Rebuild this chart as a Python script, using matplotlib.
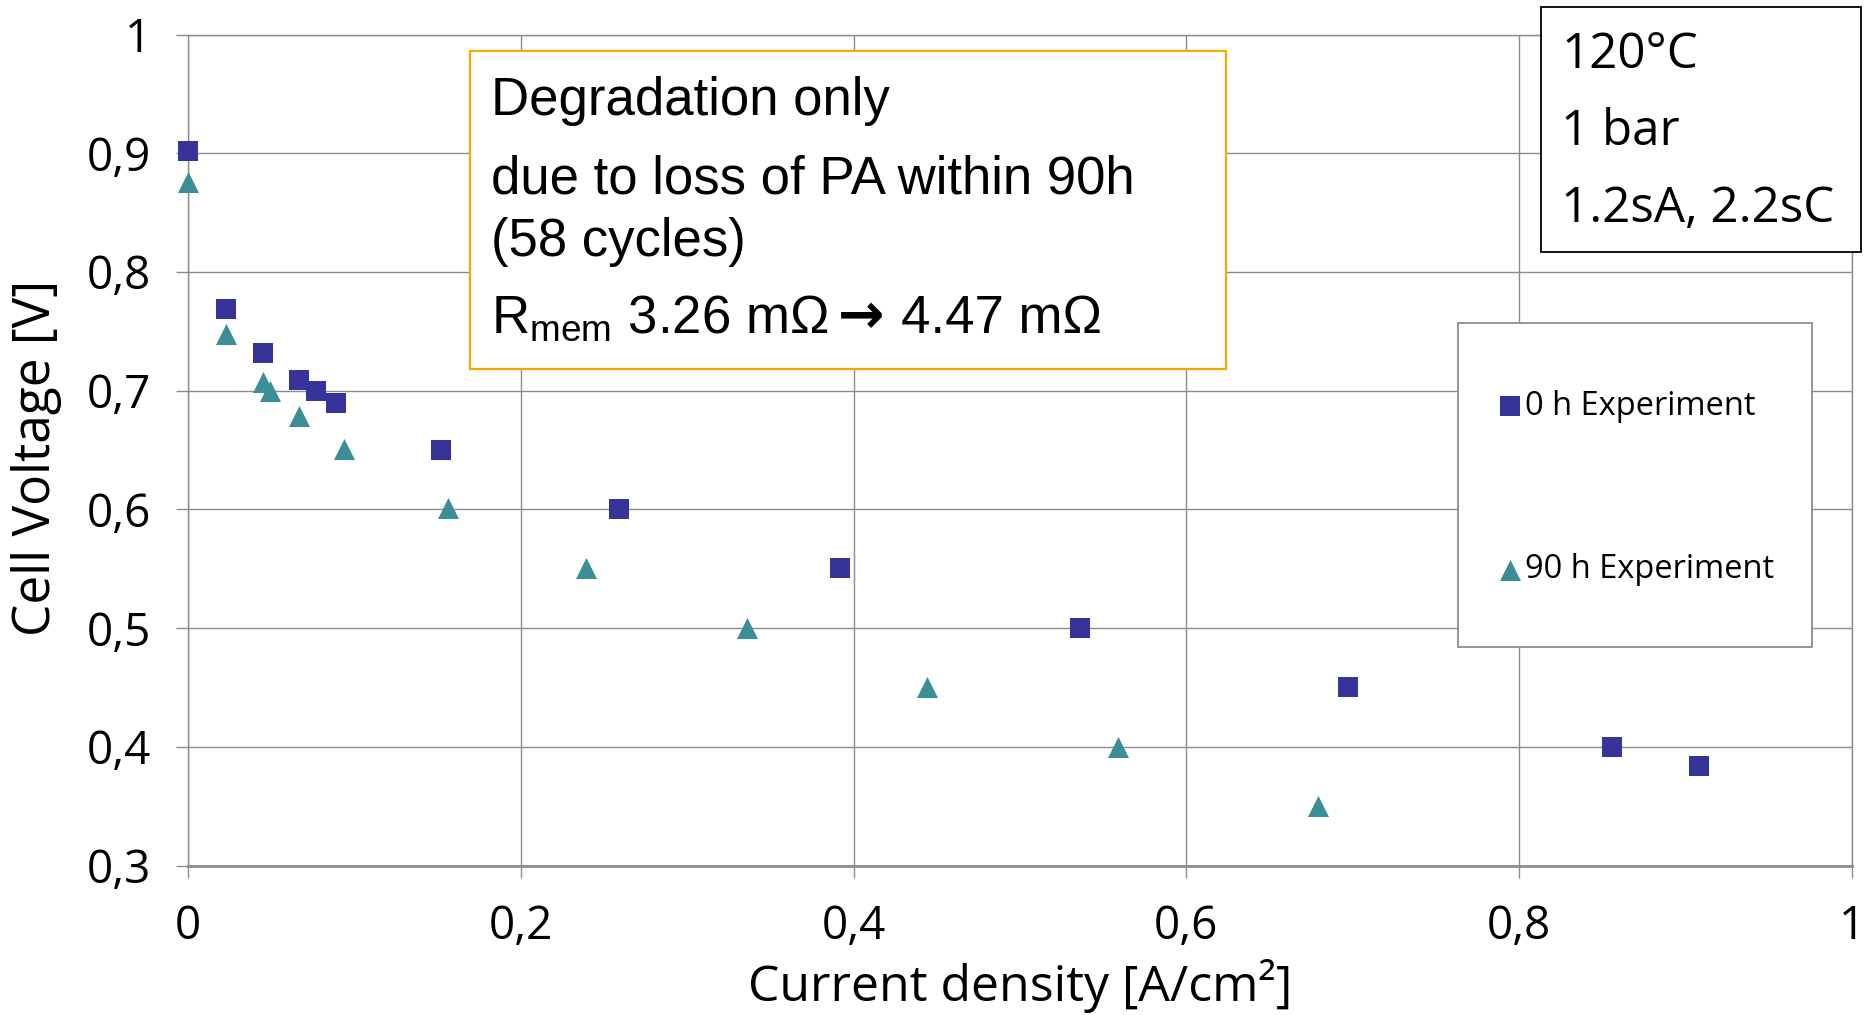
import matplotlib.pyplot as plt
from matplotlib.patches import Rectangle
from matplotlib.ticker import FixedLocator, FuncFormatter

# 0 h experiment (squares)
j_0h = [0.0, 0.023, 0.045, 0.067, 0.077, 0.089, 0.152, 0.259, 0.392, 0.536, 0.697, 0.856, 0.908]
u_0h = [0.902, 0.769, 0.732, 0.709, 0.700, 0.690, 0.650, 0.600, 0.551, 0.500, 0.450, 0.400, 0.384]

# 90 h experiment (triangles)
j_90h = [0.0, 0.023, 0.045, 0.049, 0.067, 0.094, 0.156, 0.239, 0.336, 0.444, 0.559, 0.679]
u_90h = [0.876, 0.748, 0.707, 0.700, 0.679, 0.651, 0.601, 0.551, 0.500, 0.450, 0.400, 0.350]

x_ticks = [0, 0.2, 0.4, 0.6, 0.8, 1.0]
y_ticks = [0.3, 0.4, 0.5, 0.6, 0.7, 0.8, 0.9, 1.0]

note_lines = ['Degradation only', 'due to loss of PA within 90h', '(58 cycles)']
rmem_parts = [r'R$_{\mathrm{mem}}$ 3.26 mΩ', '→', '4.47 mΩ']
cond_lines = ['120°C', '1 bar', '1.2sA, 2.2sC']

plt.rcParams['font.family'] = ['Open Sans', 'DejaVu Sans']
plt.rcParams['mathtext.fontset'] = 'custom'
plt.rcParams['mathtext.rm'] = 'Liberation Sans'

W, H = 1864, 1015
fig = plt.figure(figsize=(W / 100, H / 100), dpi=100)
ax = fig.add_axes([188 / W, 1 - 865.5 / H, (1852 - 188) / W, (865.5 - 34.5) / H])

grid_c = '#8c8c8c'
ax.set_xlim(0, 1)
ax.set_ylim(0.3, 1)
ax.xaxis.set_major_locator(FixedLocator(x_ticks))
ax.yaxis.set_major_locator(FixedLocator(y_ticks))
fmt = FuncFormatter(lambda v, p: ('%g' % round(v, 2)).replace('.', ','))
ax.xaxis.set_major_formatter(fmt)
ax.yaxis.set_major_formatter(fmt)
ax.grid(True, color=grid_c, lw=1.0)
ax.set_axisbelow(True)
for s in ax.spines.values():
    s.set_color(grid_c)
    s.set_linewidth(1.0)
ax.spines['bottom'].set_linewidth(2.0)
ax.tick_params(axis='both', direction='out', length=8.6, width=1.0, color=grid_c,
               labelsize=33, labelcolor='black')
ax.tick_params(axis='y', pad=18)
ax.tick_params(axis='x', pad=19)

ax.scatter(j_0h, u_0h, marker='s', s=190, color='#36349a', lw=0, clip_on=False, zorder=3,
           label='0 h Experiment')
ax.scatter(j_90h, u_90h, marker='^', s=230, color='#3b8e96', lw=0, clip_on=False, zorder=3,
           label='90 h Experiment')

ax.set_xlabel('Current density [A/cm²]', fontsize=36)
ax.xaxis.set_label_coords(0.5, -0.112)
ax.set_ylabel('Cell Voltage [V]', fontsize=37)
ax.yaxis.set_label_coords(-0.076, 0.49)

# annotation box (orange)
fig.add_artist(Rectangle((470 / W, 1 - 369 / H), (1226 - 470) / W, (369 - 51) / H,
                         transform=fig.transFigure, facecolor='white', edgecolor='#f5a800', lw=1.6))
lib = ['Liberation Sans', 'DejaVu Sans']
for txt, yb in zip(note_lines, [115, 193, 256]):
    fig.text(491 / W, 1 - yb / H, txt, fontsize=38, va='baseline', family=lib)

# last line: text, heavy arrow, text placed one after the other
renderer = fig.canvas.get_renderer()
x_px = 491
for part, fam, fw, fs, gap in zip(rmem_parts, [lib, ['DejaVu Sans'], lib],
                                  ['normal', 'bold', 'normal'], [38, 40, 38], [0, 10, 16]):
    x_px += gap
    t = fig.text(x_px / W, 1 - 333 / H, part, fontsize=fs, va='baseline', family=fam, weight=fw)
    x_px = t.get_window_extent(renderer).x1

# conditions box (black)
fig.add_artist(Rectangle((1541 / W, 1 - 252 / H), (1861 - 1541) / W, (252 - 7) / H,
                         transform=fig.transFigure, facecolor='white', edgecolor='black', lw=1.3))
for txt, yb in zip(cond_lines, [68, 145, 222]):
    fig.text(1561 / W, 1 - yb / H, txt, fontsize=35.5, va='baseline')

# legend with separate frame
fig.add_artist(Rectangle((1458 / W, 1 - 647 / H), (1812 - 1458) / W, (647 - 323) / H,
                         transform=fig.transFigure, facecolor='white', edgecolor='#8c8c8c', lw=1.3))
leg = fig.legend(loc='center left', bbox_to_anchor=(1484 / W, 1 - 488 / H), frameon=False,
                 fontsize=23.5, handlelength=0.6, handletextpad=0.15, labelspacing=4.0,
                 borderpad=0, markerscale=1.0)
leg.set_zorder(5)

fig.savefig('out.png', dpi=100)
